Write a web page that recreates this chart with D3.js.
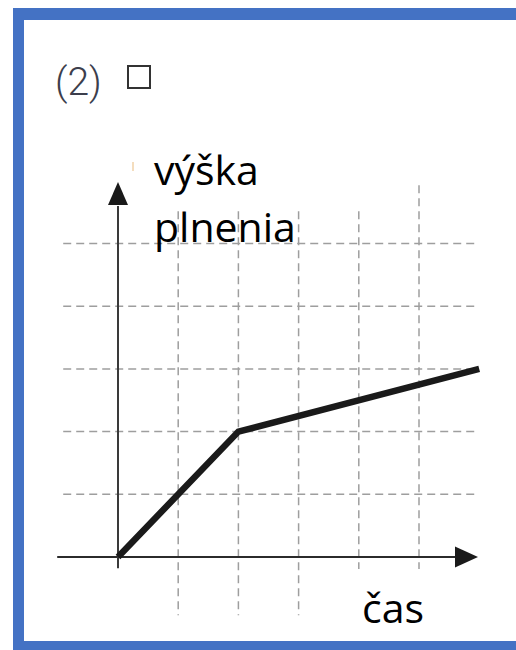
<!DOCTYPE html>
<html>
<head>
<meta charset="utf-8">
<script src="https://cdn.jsdelivr.net/npm/d3@7"></script>
<style>
  html, body { margin: 0; padding: 0; background: #fff; }
  svg { display: block; }
</style>
</head>
<body>
<div id="chart"></div>
<script>
// data: filling height over time (grid units)
var timePoints = [0, 2, 6];
var heightValues = [0, 2, 3];
var gridX = [1, 2, 3, 4, 5];
var gridY = [1, 2, 3, 4, 5];
var yLabelLines = ["výška", "plnenia"];
var xLabel = "čas";
var taskLabel = "(2)";

var W = 516, H = 650;
var blue = "#4472c4";

var svg = d3.select('#chart').append('svg').attr("width", W).attr("height", H);

// scales
var x = d3.scaleLinear().domain([0, 6]).range([118, 479.2]);
var y = d3.scaleLinear().domain([0, 5]).range([557, 243.5]);

// frame (blue border on top, left, bottom)
svg.append("rect").attr("x", 13).attr("y", 8).attr("width", W - 13).attr("height", 12).attr("fill", blue);
svg.append("rect").attr("x", 13).attr("y", 8).attr("width", 11).attr("height", H - 8).attr("fill", blue);
svg.append("rect").attr("x", 13).attr("y", 641).attr("width", W - 13).attr("height", 9).attr("fill", blue);

// task number + checkbox
svg.append("text")
  .attr("x", 55).attr("y", 95)
  .attr("font-family", "Roboto, 'Liberation Sans', sans-serif")
  .attr("font-weight", 300)
  .attr("font-size", 39)
  .attr("fill", "#3c3e4c")
  .text(taskLabel);

svg.append("rect")
  .attr("x", 128).attr("y", 66).attr("width", 22).attr("height", 22)
  .attr("fill", "none").attr("stroke", "#333").attr("stroke-width", 2);

// dashed grid
var grid = svg.append("g")
  .attr("stroke", "#9e9e9e")
  .attr("stroke-width", 1.5)
  .attr("stroke-dasharray", "8,5");

grid.selectAll("line.h")
  .data(gridY)
  .enter().append("line")
  .attr("class", "h")
  .attr("x1", x(-0.91)).attr("x2", x(5.92))
  .attr("y1", function(d) { return y(d); })
  .attr("y2", function(d) { return y(d); });

grid.selectAll("line.v")
  .data(gridX)
  .enter().append("line")
  .attr("class", "v")
  .attr("x1", function(d) { return x(d); })
  .attr("x2", function(d) { return x(d); })
  .attr("y1", y(5.93)).attr("y2", y(-0.93));

// white text boxes that hide part of the grid
svg.append("rect").attr("x", 126).attr("y", 150).attr("width", 278).attr("height", 59).attr("fill", "#fff");
svg.append("rect").attr("x", 330).attr("y", 569).attr("width", 146).attr("height", 70).attr("fill", "#fff");

// axes with arrow heads
var axes = svg.append("g");
axes.append("line")
  .attr("x1", x(-1.01)).attr("x2", x(5.7))
  .attr("y1", y(0)).attr("y2", y(0))
  .attr("stroke", "#2b2b2b").attr("stroke-width", 2);
axes.append("line")
  .attr("x1", x(0)).attr("x2", x(0))
  .attr("y1", y(-0.18)).attr("y2", y(5.6))
  .attr("stroke", "#3a3a3a").attr("stroke-width", 2);

var xt = x(5.98), yb = y(0);
axes.append("path")
  .attr("d", "M" + xt + "," + yb + "L" + (xt - 23) + "," + (yb - 10.5) + "L" + (xt - 23) + "," + (yb + 10.5) + "Z")
  .attr("fill", "#1a1a1a");
var yt = y(5.98), xb = x(0);
axes.append("path")
  .attr("d", "M" + xb + "," + yt + "L" + (xb - 10) + "," + (yt + 23) + "L" + (xb + 10) + "," + (yt + 23) + "Z")
  .attr("fill", "#1a1a1a");

// filling line
var line = d3.line()
  .x(function(d, i) { return x(timePoints[i]); })
  .y(function(d) { return y(d); });

svg.append("path")
  .datum(heightValues)
  .attr("d", line)
  .attr("fill", "none")
  .attr("stroke", "#1a1a1a")
  .attr("stroke-width", 6.5)
  .attr("stroke-linejoin", "miter");

// small stray mark near the y label
svg.append("line")
  .attr("x1", 133).attr("x2", 133).attr("y1", 162).attr("y2", 171)
  .attr("stroke", "#f0d2a8").attr("stroke-width", 1.5);

// labels
var labelFont = "'Open Sans', 'Noto Sans', sans-serif";
svg.append("g").selectAll("text")
  .data(yLabelLines)
  .enter().append("text")
  .attr("x", 154)
  .attr("y", function(d, i) { return 185 + i * 57; })
  .attr("font-family", labelFont)
  .attr("font-size", 41)
  .attr("fill", "#000")
  .text(function(d) { return d; });

svg.append("text")
  .attr("x", 362)
  .attr("y", 623)
  .attr("font-family", labelFont)
  .attr("font-size", 41)
  .attr("fill", "#000")
  .text(xLabel);
</script>
</body>
</html>
